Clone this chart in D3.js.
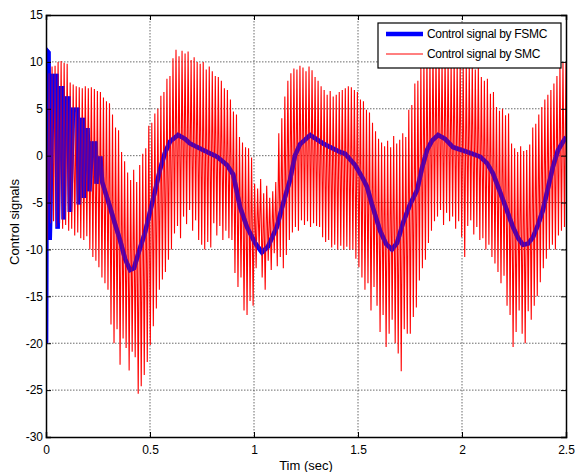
<!DOCTYPE html>
<html>
<head>
<meta charset="utf-8">
<script src="https://d3js.org/d3.v7.min.js"></script>
<style>
  body { margin: 0; background: #fff; }
  svg { display: block; font-family: "Liberation Sans", Arial, sans-serif; }
</style>
</head>
<body>
<div id="chart"></div>
<script>
// axis ticks
const xTicks = [0, 0.5, 1, 1.5, 2, 2.5];
const yTicks = [-30, -25, -20, -15, -10, -5, 0, 5, 10, 15];

// FSMC control signal (time in sec, value)
const fsmcTime = [0, 0.004, 0.012, 0.018, 0.032, 0.05, 0.056, 0.064, 0.078, 0.085,
  0.09, 0.108, 0.115, 0.13, 0.152, 0.158, 0.163, 0.178, 0.182, 0.186,
  0.2, 0.208, 0.222, 0.238, 0.243, 0.25, 0.262, 0.27, 0.284, 0.308,
  0.332, 0.356, 0.38, 0.404, 0.423, 0.447, 0.476, 0.5, 0.524, 0.548,
  0.572, 0.596, 0.635, 0.668, 0.692, 0.755, 0.822, 0.87, 0.9, 0.933,
  0.966, 1.005, 1.038, 1.067, 1.11, 1.14, 1.173, 1.197, 1.221, 1.27,
  1.332, 1.413, 1.438, 1.486, 1.52, 1.543, 1.567, 1.606, 1.635, 1.663,
  1.688, 1.716, 1.75, 1.784, 1.808, 1.832, 1.856, 1.885, 1.918, 1.957,
  2.038, 2.087, 2.12, 2.149, 2.173, 2.197, 2.245, 2.27, 2.293, 2.317,
  2.341, 2.365, 2.389, 2.413, 2.437, 2.462, 2.5];
const fsmcValue = [-20, 11.2, 11.0, -9.0, 8.5, 8.5, -7.8, 7.2, 7.2, -6.8,
  6.1, 6.1, -6.0, 4.9, 4.9, -5.2, 3.8, 3.8, -4.5, 2.7,
  2.7, -3.8, 1.3, 1.3, -3.0, -0.3, -0.3, -2.8, -3.8, -5.5,
  -7.3, -9.0, -11.0, -12.2, -12.0, -10.2, -8.2, -6.0, -3.8, -1.5,
  0.3, 1.5, 2.2, 1.8, 1.3, 0.6, -0.1, -1.0, -2.0, -5.5,
  -7.6, -9.3, -10.3, -9.7, -7.6, -5.1, -2.6, 0, 1.2, 2.2,
  1.3, 0.4, 0.2, -1.0, -2.3, -3.3, -5.2, -8.0, -9.4, -10.0,
  -9.3, -7.2, -5.2, -3.7, -1.3, 0.6, 1.6, 2.2, 1.8, 0.9,
  0.3, -0.1, -0.8, -1.9, -3.3, -4.7, -7.6, -8.8, -9.5, -9.4,
  -8.7, -7.4, -5.8, -3.5, -1.2, 0.6, 2.0];

// SMC control signal: peak and trough of each chattering cycle
const smcHigh = [8.4, 8.8, 9.5, 9.6, 10, 10.1, 9.9, 9.8, 7.8, 7.6,
  7.4, 7.3, 7.2, 7.4, 7.2, 7.3, 7.1, 6.9, 6.8, 6.2,
  5.8, 5.6, 4.4, 3.0, 2.7, 0.4, -0.6, -1.8, -2.6, -1.5,
  -2.8, -1.0, 0.2, 0.8, 3.2, 3.5, 4.5, 5.0, 6.4, 6.8,
  8.2, 8.5, 10.4, 11.3, 10.6, 11.2, 10.9, 11.1, 10.2, 10.5,
  10.0, 9.8, 10.0, 9.2, 9.5, 9.0, 8.5, 8.4, 8.0, 7.2,
  7.0, 6.0, 4.7, 4.4, 2.0, 1.4, 0.9, 0.8, -0.2, -3.0,
  -3.5, -2.5, -4.0, -3.2, -4.5, -3.8, -2.8, 2.4, 4.0, 6.3,
  8.0, 8.8, 9.3, 9.2, 9.6, 9.4, 9.0, 9.5, 9.1, 8.4,
  8.0, 7.4, 7.0, 6.5, 6.9, 6.3, 6.5, 6.8, 7.0, 7.2,
  7.4, 7.3, 7.0, 6.8, 6.0, 5.8, 4.9, 4.6, 3.5, 2.6,
  1.8, 1.4, 1.0, 1.6, 0.9, 2.1, 1.3, 1.7, 2.4, 2.0,
  4.9, 5.4, 7.7, 8.0, 9.5, 10.3, 10.8, 10.5, 11.5, 10.9,
  11.2, 10.2, 10.8, 10.4, 9.9, 10.6, 10.0, 10.3, 9.8, 10.1,
  9.6, 9.9, 9.2, 9.5, 8.4, 8.0, 8.2, 6.6, 6.8, 5.2,
  4.8, 5.0, 4.3, 4.5, 1.3, 0.8, 0.4, 1.0, 0.5, 0.6,
  1.2, 3.0, 3.4, 4.4, 5.2, 6.0, 6.5, 7.0, 7.7, 8.5, 9.6, 10.0];
const smcLow = [-9.0, -7.2, -7.0, -7.6, -7.2, -7.8, -7.4, -8.0, -7.8, -8.5,
  -8.2, -8.8, -9.0, -8.6, -10.0, -10.8, -11.2, -11.9, -13.0, -13.6,
  -14.3, -18.0, -20.0, -18.5, -22.3, -19.5, -20.5, -22.9, -20.9, -21.5,
  -25.4, -24.6, -23.4, -22.0, -20.2, -18.2, -16.3, -14.3, -13.2, -12.4,
  -11.1, -10.0, -8.3, -7.5, -8.8, -6.5, -7.3, -5.8, -8.0, -6.9,
  -9.0, -9.5, -10.0, -9.2, -9.8, -7.2, -8.5, -7.5, -9.0, -8.0,
  -8.8, -9.0, -12.5, -14.0, -13.0, -16.5, -17.0, -15.5, -16.0, -12.0,
  -10.0, -13.0, -14.3, -11.2, -12.2, -10.4, -11.8, -10.8, -12.0, -10.6,
  -9.0, -8.2, -7.6, -8.0, -6.9, -7.4, -7.0, -7.6, -7.2, -7.5,
  -7.6, -8.7, -9.2, -9.0, -9.8, -9.5, -10.0, -9.6, -10.0, -9.7,
  -10.0, -10.0, -11.0, -11.9, -13.0, -14.3, -13.6, -16.5, -14.0, -16.0,
  -18.8, -17.0, -20.4, -19.0, -17.5, -20.0, -21.1, -23.0, -18.5, -19.0,
  -19.0, -17.2, -16.2, -13.3, -12.0, -11.1, -9.3, -8.0, -7.0, -6.5,
  -5.8, -7.4, -6.1, -7.0, -6.5, -7.8, -7.0, -8.7, -10.8, -7.5,
  -6.9, -8.4, -7.6, -9.0, -8.8, -10.0, -9.5, -10.8, -11.5, -12.4,
  -13.6, -12.8, -16.0, -17.0, -20.4, -18.8, -16.5, -19.0, -20.0, -16.6,
  -17.5, -16.0, -15.0, -13.5, -12.0, -11.0, -10.0, -9.5, -10.0, -8.5, -8.0, -7.6];
const smcStep = 2.5 / smcHigh.length; // sampling of the chattering cycles

const legendLabels = ['Control signal by FSMC', 'Control signal by SMC'];

const width = 575, height = 472;
const margin = { top: 15, right: 9, bottom: 35, left: 46 };
const innerW = width - margin.left - margin.right;
const innerH = height - margin.top - margin.bottom;

const svg = d3.select('#chart').append('svg')
  .attr('width', width)
  .attr('height', height);

const x = d3.scaleLinear().domain([0, 2.5]).range([0, innerW]);
const y = d3.scaleLinear().domain([-30, 15]).range([innerH, 0]);

const g = svg.append('g').attr('transform', `translate(${margin.left},${margin.top})`);

g.append('clipPath').attr('id', 'clip')
  .append('rect').attr('width', innerW).attr('height', innerH);

// grid
g.append('g').selectAll('line')
  .data(xTicks.slice(1, -1))
  .enter().append('line')
  .attr('x1', d => x(d)).attr('x2', d => x(d))
  .attr('y1', 0).attr('y2', innerH)
  .style('stroke', '#444').style('stroke-width', 0.8)
  .style('stroke-dasharray', '1.5,1.5');
g.append('g').selectAll('line')
  .data(yTicks.slice(1, -1))
  .enter().append('line')
  .attr('x1', 0).attr('x2', innerW)
  .attr('y1', d => y(d)).attr('y2', d => y(d))
  .style('stroke', '#444').style('stroke-width', 0.8)
  .style('stroke-dasharray', '1.5,1.5');

const plot = g.append('g').attr('clip-path', 'url(#clip)');

const fsmc = fsmcTime.map((t, i) => [t, fsmcValue[i]]);
const fsmcLine = d3.line().x(d => x(d[0])).y(d => y(d[1]));

const smc = [];
smcHigh.forEach((h, i) => {
  smc.push([i * smcStep, h]);
  smc.push([(i + 0.5) * smcStep, smcLow[i]]);
});
smc.push([2.5, smcHigh[smcHigh.length - 1]]);

// FSMC (thick blue)
plot.append('path')
  .datum(fsmc)
  .attr('d', fsmcLine)
  .style('fill', 'none')
  .style('stroke', '#0000ff')
  .style('stroke-width', 4.5);

// SMC (thin red) over it
plot.append('path')
  .datum(smc)
  .attr('d', d3.line().x(d => x(d[0])).y(d => y(d[1])))
  .style('fill', 'none')
  .style('stroke', '#ff0000')
  .style('stroke-width', 1.1);

// let the blue show through the chattering
plot.append('path')
  .datum(fsmc)
  .attr('d', fsmcLine)
  .style('fill', 'none')
  .style('stroke', '#0000ff')
  .style('stroke-opacity', 0.5)
  .style('stroke-width', 4.5);

// axes
const fmt = d => String(d);
const axisFont = sel => sel.selectAll('text')
  .style('font-size', '12px')
  .style('font-family', '"Liberation Sans", Arial, sans-serif')
  .style('fill', '#000');

const xAxis = g.append('g').attr('transform', `translate(0,${innerH})`)
  .call(d3.axisBottom(x).tickValues(xTicks).tickFormat(fmt).tickSize(-5).tickPadding(8));
axisFont(xAxis);
const yAxis = g.append('g')
  .call(d3.axisLeft(y).tickValues(yTicks).tickFormat(fmt).tickSize(-5).tickPadding(3));
axisFont(yAxis);
g.append('g')
  .call(d3.axisTop(x).tickValues(xTicks).tickFormat('').tickSize(-5));
g.append('g').attr('transform', `translate(${innerW},0)`)
  .call(d3.axisRight(y).tickValues(yTicks).tickFormat('').tickSize(-5));
g.selectAll('.domain').style('stroke', '#000').style('stroke-width', 1.5);
g.selectAll('.tick line').style('stroke', '#000');

// axis titles
svg.append('text')
  .attr('x', margin.left + innerW / 2)
  .attr('y', 470)
  .attr('text-anchor', 'middle')
  .style('font-size', '13px')
  .text('Tim (sec)');
svg.append('text')
  .attr('transform', `translate(19,${margin.top + innerH / 2 - 4}) rotate(-90)`)
  .attr('text-anchor', 'middle')
  .style('font-size', '13px')
  .text('Control signals');

// legend
const legend = svg.append('g').attr('transform', 'translate(378,23)');
legend.append('rect')
  .attr('width', 183).attr('height', 45)
  .style('fill', '#fff').style('stroke', '#000').style('stroke-width', 1.2);
const legendColors = ['#0000ff', '#ff0000'];
const legendWidths = [4.5, 1];
legendLabels.forEach((label, i) => {
  const ly = 11 + i * 20;
  legend.append('line')
    .attr('x1', 8).attr('x2', 45).attr('y1', ly).attr('y2', ly)
    .style('stroke', legendColors[i]).style('stroke-width', legendWidths[i]);
  legend.append('text')
    .attr('x', 49).attr('y', ly + 4)
    .style('font-size', '12px')
    .style('letter-spacing', '-0.3px')
    .text(label);
});
</script>
</body>
</html>
